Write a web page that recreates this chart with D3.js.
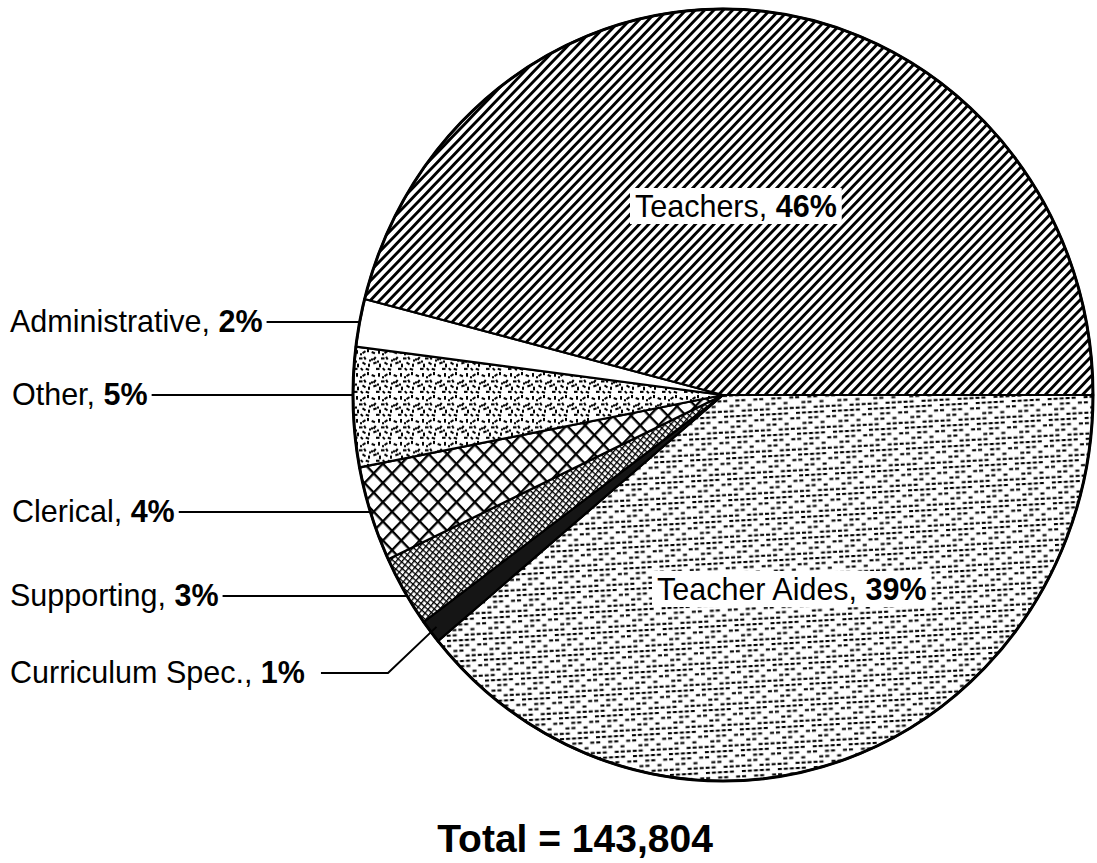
<!DOCTYPE html>
<html>
<head>
<meta charset="utf-8">
<script src="https://cdnjs.cloudflare.com/ajax/libs/d3/7.8.5/d3.min.js"></script>
<style>
  body { margin: 0; background: #fff; }
  text { font-family: 'Liberation Sans', Arial, sans-serif; fill: #000; }
</style>
</head>
<body>
<div id="chart"></div>
<script>
// categories in clockwise order, starting at 3 o'clock
var categories = ["Teacher Aides", "Curriculum Spec.", "Supporting", "Clerical", "Other", "Administrative", "Teachers"];
var shares = [39, 1, 3, 4, 5, 2, 46];
var total = "143,804";

var width = 1097, height = 863;
var cx = 723, cy = 395, rx = 370, ry = 386;

var svg = d3.select("#chart").append("svg")
  .attr("width", width).attr("height", height);

var defs = svg.append("defs");

// Teachers: diagonal lines
var p = defs.append("pattern").attr("id", "pTeachers")
  .attr("patternUnits", "userSpaceOnUse").attr("width", 6.6).attr("height", 6.6)
  .attr("patternTransform", "rotate(-45)");
p.append("rect").attr("width", 6.6).attr("height", 6.6).attr("fill", "#fff");
p.append("line").attr("x1", 0).attr("y1", 3.3).attr("x2", 6.6).attr("y2", 3.3)
  .attr("stroke", "#000").attr("stroke-width", 2.8);

// Clerical: open cross-hatch
p = defs.append("pattern").attr("id", "pClerical")
  .attr("patternUnits", "userSpaceOnUse").attr("width", 13).attr("height", 13)
  .attr("patternTransform", "rotate(45)");
p.append("rect").attr("width", 13).attr("height", 13).attr("fill", "#fff");
p.append("line").attr("x1", 0).attr("y1", 1).attr("x2", 13).attr("y2", 1).attr("stroke", "#000").attr("stroke-width", 2.6);
p.append("line").attr("x1", 1).attr("y1", 0).attr("x2", 1).attr("y2", 13).attr("stroke", "#000").attr("stroke-width", 2.6);

// Supporting: fine cross-hatch
p = defs.append("pattern").attr("id", "pSupporting")
  .attr("patternUnits", "userSpaceOnUse").attr("width", 4.5).attr("height", 4.5)
  .attr("patternTransform", "rotate(40)");
p.append("rect").attr("width", 4.5).attr("height", 4.5).attr("fill", "#fff");
p.append("line").attr("x1", 0).attr("y1", 0.6).attr("x2", 4.5).attr("y2", 0.6).attr("stroke", "#000").attr("stroke-width", 1.4);
p.append("line").attr("x1", 0.6).attr("y1", 0).attr("x2", 0.6).attr("y2", 4.5).attr("stroke", "#000").attr("stroke-width", 1.4);

// Other: stipple of short dashes
var speck = [[1,2,3.5,2,20],[7,1,2,3.5,0],[13,3,3.5,2,-30],[18,0,2,3,0],[4,7,2,3.5,40],
  [10,8,3.5,2,0],[16,7,3,2,60],[2,13,3.5,2,-20],[8,14,2,3.5,0],[14,12,3.5,2,30],
  [19,14,2,3,0],[5,18,3.5,2,0],[11,19,2,3,-45],[17,18,3.5,2,15],[0,9,2,2,0],
  [11,4,2,2,0],[20,10,2,2,0],[6,11,2,2,0]];
p = defs.append("pattern").attr("id", "pOther")
  .attr("patternUnits", "userSpaceOnUse").attr("width", 22).attr("height", 22);
p.append("rect").attr("width", 22).attr("height", 22).attr("fill", "#fff");
p.selectAll("rect.s").data(speck).enter().append("rect").attr("class", "s")
  .attr("x", function(d) { return d[0]; }).attr("y", function(d) { return d[1]; })
  .attr("width", function(d) { return d[2]; }).attr("height", function(d) { return d[3]; })
  .attr("transform", function(d) { return "rotate(" + d[4] + "," + d[0] + "," + d[1] + ")"; })
  .attr("fill", "#000");

// Teacher Aides: rows of small dashes with gaps
var dash = [[0,0],[6,0],[12,0],[18,0],[0,5],[12,5],[18,5],[6,10],[12,10],[0,15],[6,15],[18,15],
  [24,0],[30,5],[24,10],[30,15],[24,15]];
p = defs.append("pattern").attr("id", "pAides")
  .attr("patternUnits", "userSpaceOnUse").attr("width", 36).attr("height", 20)
  .attr("patternTransform", "rotate(-3)");
p.append("rect").attr("width", 36).attr("height", 20).attr("fill", "#fff");
p.selectAll("rect.d").data(dash).enter().append("rect").attr("class", "d")
  .attr("x", function(d) { return d[0]; }).attr("y", function(d) { return d[1]; })
  .attr("width", 4).attr("height", 2).attr("fill", "#000");

var fills = {
  "Teachers": "url(#pTeachers)",
  "Administrative": "#fff",
  "Other": "url(#pOther)",
  "Clerical": "url(#pClerical)",
  "Supporting": "url(#pSupporting)",
  "Curriculum Spec.": "#151515",
  "Teacher Aides": "url(#pAides)"
};

var data = categories.map(function(c, i) { return { name: c, value: shares[i] }; });

var pie = d3.pie().sort(null).value(function(d) { return d.value; })
  .startAngle(Math.PI / 2).endAngle(Math.PI / 2 + 2 * Math.PI);
var arc = d3.arc().innerRadius(0).outerRadius(rx);

var g = svg.append("g")
  .attr("transform", "translate(" + cx + "," + cy + ") scale(1," + (ry / rx) + ")");

g.selectAll("path.slice").data(pie(data)).enter().append("path")
  .attr("class", "slice")
  .attr("d", arc)
  .attr("fill", function(d) { return fills[d.data.name]; })
  .attr("stroke", "#000").attr("stroke-width", 2.2)
  .attr("vector-effect", "non-scaling-stroke");

g.append("ellipse").attr("rx", rx).attr("ry", rx)
  .attr("fill", "none").attr("stroke", "#000").attr("stroke-width", 3)
  .attr("vector-effect", "non-scaling-stroke");

// left edge of ellipse at a given y
function edgeX(y) {
  var t = (y - cy) / ry;
  return cx - rx * Math.sqrt(1 - t * t);
}

// outside labels: y of leader line
var outside = [
  { name: "Administrative", x: 10, y: 322, gap: 4 },
  { name: "Other", x: 12, y: 395, gap: 4 },
  { name: "Clerical", x: 12, y: 512, gap: 4 },
  { name: "Supporting", x: 10, y: 596, gap: 4 },
  { name: "Curriculum Spec.", x: 10, y: 673, gap: 16 }
];

var arcs = pie(data);
outside.forEach(function(o) {
  var v = shares[categories.indexOf(o.name)];
  var t = svg.append("text").attr("x", o.x).attr("y", o.y + 10).style("font-size", "30.5px");
  t.append("tspan").text(o.name + ", ");
  t.append("tspan").style("font-weight", "bold").text(v + "%");
  var bb = t.node().getBBox();
  var x0 = bb.x + bb.width + o.gap;
  if (o.name === "Curriculum Spec.") {
    var a = arcs[categories.indexOf(o.name)];
    var mid = (a.startAngle + a.endAngle) / 2;
    var ex = cx + Math.sin(mid) * rx * 0.98, ey = cy - Math.cos(mid) * ry * 0.98;
    svg.append("polyline")
      .attr("points", [[x0, o.y], [388, o.y], [ex, ey]].join(" "))
      .attr("fill", "none").attr("stroke", "#000").attr("stroke-width", 2);
  } else {
    svg.append("line").attr("x1", x0).attr("y1", o.y).attr("x2", edgeX(o.y)).attr("y2", o.y)
      .attr("stroke", "#000").attr("stroke-width", 2);
  }
});

// inside labels with white backing
var inside = [
  { name: "Teachers", x: 635, y: 217 },
  { name: "Teacher Aides", x: 657, y: 600 }
];
inside.forEach(function(o) {
  var v = shares[categories.indexOf(o.name)];
  var bg = svg.append("rect").attr("fill", "#fff");
  var t = svg.append("text").attr("x", o.x).attr("y", o.y).style("font-size", "30.5px");
  t.append("tspan").text(o.name + ", ");
  t.append("tspan").style("font-weight", "bold").text(v + "%");
  var bb = t.node().getBBox();
  bg.attr("x", bb.x - 5).attr("y", bb.y - 1).attr("width", bb.width + 10).attr("height", bb.height + 2);
});

svg.append("text").attr("x", 575).attr("y", 852)
  .attr("text-anchor", "middle")
  .style("font-size", "39px").style("font-weight", "bold")
  .text("Total = " + total);
</script>
</body>
</html>
